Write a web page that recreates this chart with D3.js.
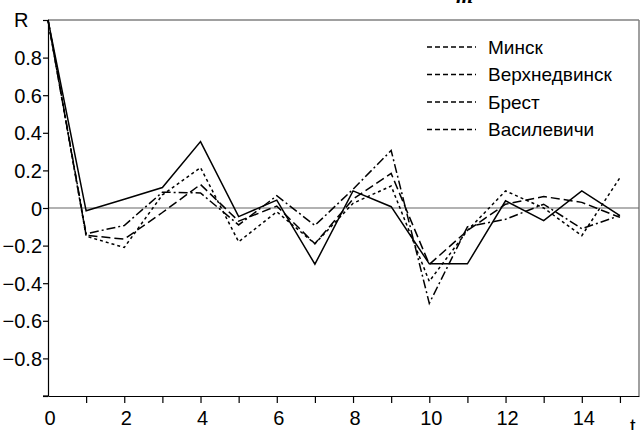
<!DOCTYPE html>
<html>
<head>
<meta charset="utf-8">
<script src="https://cdn.jsdelivr.net/npm/d3@7"></script>
<style>
  html, body { margin: 0; padding: 0; background: #fff; }
  svg { display: block; }
  text { font-family: "Liberation Sans", Arial, sans-serif; fill: #000; }
</style>
</head>
<body>
<svg id="chart" width="640" height="430"></svg>
<script>
// ---- data ----
const lags = [0, 1, 2, 3, 4, 5, 6, 7, 8, 9, 10, 11, 12, 13, 14, 15];
const minsk        = [1, -0.015, 0.047, 0.109, 0.353, -0.046, 0.042, -0.299, 0.091, 0.007, -0.297, -0.297, 0.038, -0.067, 0.091, -0.04];
const verkhnedvinsk= [1, -0.145, -0.166, -0.024, 0.125, -0.07, 0.01, -0.19, 0.047, 0.184, -0.30, -0.12, 0.02, 0.061, 0.03, -0.05];
const brest        = [1, -0.15, -0.21, 0.07, 0.215, -0.18, -0.02, -0.19, 0.025, 0.117, -0.39, -0.12, 0.091, 0.0, -0.147, 0.161];
const vasilevichi  = [1, -0.137, -0.093, 0.084, 0.08, -0.09, 0.065, -0.093, 0.1, 0.306, -0.507, -0.10, -0.06, 0.02, -0.11, -0.04];
const seriesNames  = ["Минск", "Верхнедвинск", "Брест", "Василевичи"];
const xTickValues  = [1, 2, 3, 4, 5, 6, 7, 8, 9, 10, 11, 12, 13, 14, 15];
const xLabelValues = [0, 2, 4, 6, 8, 10, 12, 14];
const yTickValues  = [-1, -0.8, -0.6, -0.4, -0.2, 0, 0.2, 0.4, 0.6, 0.8, 1];

const seriesValues = [minsk, verkhnedvinsk, brest, vasilevichi];
const dashes = [null, "9,4", "3,3", "9,3,2,3"];

const svg = d3.select("#chart");
const pLeft = 48, pRight = 639, pTop = 20, pBottom = 396;
const x = d3.scaleLinear().domain([0, 15.5]).range([pLeft, pRight]);
const y = d3.scaleLinear().domain([-1, 1]).range([pBottom, pTop]);

// partially clipped caption at top
svg.append("text").attr("x", 456).attr("y", 3)
  .style("font-family", "'Liberation Serif', serif").style("font-style", "italic")
  .style("font-weight", "bold").style("font-size", "22px").text("m");

// frame (top + right), gray
svg.append("line").attr("x1", pLeft).attr("x2", pRight).attr("y1", pTop).attr("y2", pTop)
  .attr("stroke", "#808080").attr("stroke-width", 1.5);
svg.append("line").attr("x1", pRight).attr("x2", pRight).attr("y1", pTop).attr("y2", pBottom)
  .attr("stroke", "#808080").attr("stroke-width", 1.5);

// zero line
svg.append("line").attr("x1", pLeft).attr("x2", pRight).attr("y1", y(0)).attr("y2", y(0))
  .attr("stroke", "#666").attr("stroke-width", 1.2);

// y axis
const yAxis = d3.axisLeft(y).tickValues(yTickValues).tickSize(5).tickSizeOuter(0)
  .tickFormat(d => (d === 1 || d === -1) ? "" : (d === 0 ? "0" : d3.format(".1f")(d)));
const gy = svg.append("g").attr("transform", `translate(${pLeft},0)`).call(yAxis);
gy.selectAll("path, line").attr("stroke", "#000").attr("stroke-width", 1.2);
gy.selectAll("text").style("font-size", "20px").attr("x", -6).attr("dy", "0.35em");
svg.append("text").attr("x", 14).attr("y", y(1)).attr("dy", "0.35em")
  .style("font-size", "20px").text("R");

// x axis
const xAxis = d3.axisBottom(x).tickValues(xTickValues).tickSize(7).tickSizeOuter(0).tickFormat("");
const gx = svg.append("g").attr("transform", `translate(0,${pBottom})`).call(xAxis);
gx.selectAll("path, line").attr("stroke", "#000").attr("stroke-width", 1.2);
svg.append("line").attr("x1", pLeft - 5).attr("x2", pLeft).attr("y1", pBottom).attr("y2", pBottom)
  .attr("stroke", "#000").attr("stroke-width", 1.2);
svg.selectAll(".xlab").data(xLabelValues).enter().append("text")
  .attr("class", "xlab").attr("x", d => x(d) + 2).attr("y", 425)
  .attr("text-anchor", "middle").style("font-size", "20px").text(d => d);
svg.append("text").attr("x", 630).attr("y", 433).style("font-size", "20px").text("t");

// series
const line = d3.line().x((d, i) => x(lags[i])).y(d => y(d));
seriesValues.forEach((vals, k) => {
  svg.append("path").datum(vals).attr("d", line)
    .attr("fill", "none").attr("stroke", "#000").attr("stroke-width", 1.5)
    .attr("stroke-dasharray", dashes[k]);
});

// legend (all entries drawn with the same short dashes, as in the original)
const legY = [47, 74.5, 102, 129.5];
seriesNames.forEach((name, k) => {
  svg.append("line").attr("x1", 427).attr("x2", 476).attr("y1", legY[k]).attr("y2", legY[k])
    .attr("stroke", "#000").attr("stroke-width", 1.5).attr("stroke-dasharray", "5,3");
  svg.append("text").attr("x", 488).attr("y", legY[k]).attr("dy", "0.35em")
    .style("font-size", "19px").text(name);
});
</script>
</body>
</html>
